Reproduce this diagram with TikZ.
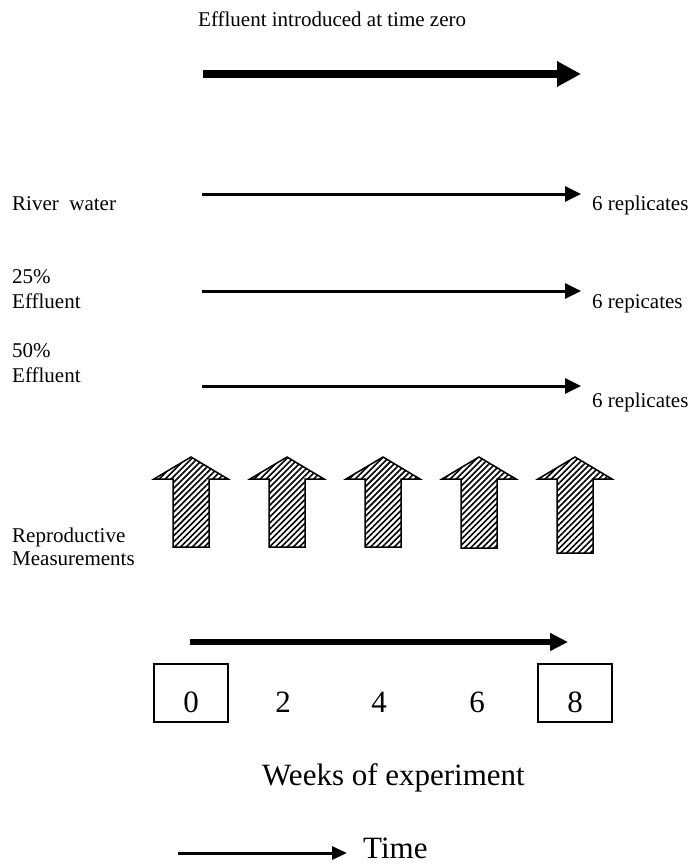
\documentclass[tikz,border=0pt]{standalone}
\usepackage{fontspec}
\setmainfont{Liberation Serif}
\usetikzlibrary{arrows.meta}
\usetikzlibrary{patterns.meta}

\begin{document}
\begin{tikzpicture}[x=1pt, y=-1pt,
    lbl/.style={inner sep=0pt, anchor=base west, font=\fontsize{21}{25}\selectfont},
    big/.style={inner sep=0pt, anchor=base, font=\fontsize{31}{36}\selectfont},
    boxed/.style={draw, line width=1.2pt, minimum width=74pt, text height=38pt, text depth=0pt, inner ysep=10pt},
    row/.style={line width=3pt, -{Triangle[length=16pt, width=15pt]}},
    hatch/.style={line width=1.5pt, pattern={Lines[angle=45, distance=4.2pt, line width=1.6pt]}}]
  \useasboundingbox (0,0) rectangle (692,864);

  % top
  \node[lbl] (title) at (198,27) {Effluent introduced at time zero};
  \coordinate (t0) at (203,74);
  \coordinate (t1) at (581,74);
  \draw[line width=8pt, -{Triangle[length=24pt, width=24pt]}] (t0) -- (t1);

  % treatments
  \node[lbl] (river) at (12,210) {River\ \ water};
  \node[lbl] (rep1) at (592,210) {6 replicates};
  \coordinate (r1a) at (202,194);
  \coordinate (r1b) at (581,194);
  \draw[row] (r1a) -- (r1b);

  \node[lbl] (p25) at (12,283) {25\%};
  \node[lbl] (eff25) at (12,308) {Effluent};
  \node[lbl] (rep2) at (592,308) {6 repicates};
  \coordinate (r2a) at (202,291);
  \coordinate (r2b) at (581,291);
  \draw[row] (r2a) -- (r2b);

  \node[lbl] (p50) at (12,357) {50\%};
  \node[lbl] (eff50) at (12,382) {Effluent};
  \node[lbl] (rep3) at (592,407) {6 replicates};
  \coordinate (r3a) at (202,386);
  \coordinate (r3b) at (581,386);
  \draw[row] (r3a) -- (r3b);

  % measurements
  \node[lbl] (repro) at (12,542) {Reproductive};
  \node[lbl] (meas) at (12,565) {Measurements};
  \foreach \x/\b in {191/547, 287/547, 383/547, 479/548, 575/553}
    \draw[hatch] (\x,457) -- (\x+37,479) -- (\x+18,479) -- (\x+18,\b)
      -- (\x-18,\b) -- (\x-18,479) -- (\x-37,479) -- cycle;

  % weeks
  \coordinate (w0) at (190,642);
  \coordinate (w1) at (568,642);
  \draw[line width=6pt, -{Triangle[length=18pt, width=17pt]}] (w0) -- (w1);
  \node[big, boxed] (wk0) at (191,712) {0};
  \node[big] (wk2) at (283,712) {2};
  \node[big] (wk4) at (379,712) {4};
  \node[big] (wk6) at (477,712) {6};
  \node[big, boxed] (wk8) at (575,712) {8};
  \node[big, anchor=base west] (weeks) at (262,785) {Weeks of experiment};

  % time
  \node[big, anchor=base west] (time) at (363,858) {Time};
  \coordinate (tm0) at (178,853);
  \coordinate (tm1) at (347,853);
  \draw[line width=3pt, -{Triangle[length=15pt, width=13pt]}] (tm0) -- (tm1);
\end{tikzpicture}
\end{document}
